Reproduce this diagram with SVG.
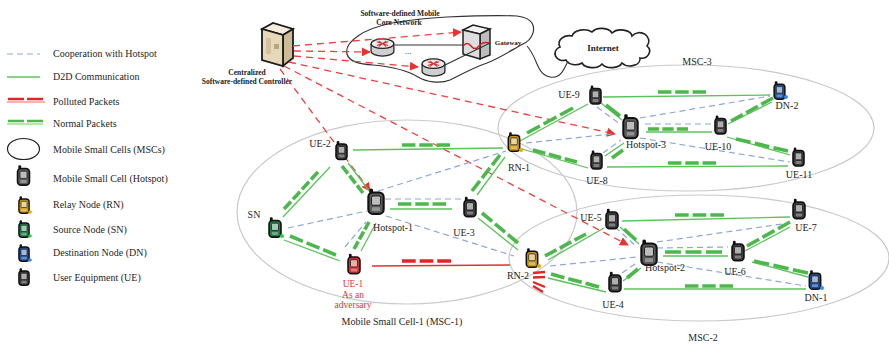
<svg xmlns="http://www.w3.org/2000/svg" width="889" height="345" viewBox="0 0 889 345">
  <defs>
    <style>
      text { font-family: "Liberation Serif", "Times New Roman", serif; fill: #262626; }
      .lg { font-size: 10px; }
      .lbl { font-size: 10px; text-anchor: middle; }
      .bold { font-weight: bold; font-size: 7.5px; text-anchor: middle; fill: #222; }
      .adv { fill: #e53333; font-size: 9.5px; }
      .cell { fill: none; stroke: #c9c9c9; stroke-width: 1.2; }
      .d2d { stroke: #5cc25c; stroke-width: 1.3; fill: none; }
      .pkt { stroke: #4cb84c; stroke-width: 3.6; fill: none; }
      .p3 { stroke-dasharray: 28 8; }
      .p4 { stroke-dasharray: 20.5 6; }
      .p1 { stroke-dasharray: none; }
      .coop { stroke: #8fa7d6; stroke-width: 1.2; stroke-dasharray: 6 4; fill: none; }
      .ctrl { stroke: #ee4040; stroke-width: 1.3; stroke-dasharray: 7 5; fill: none; }
      .bad { stroke: #e53030; stroke-width: 1.3; fill: none; }
      .badpkt { stroke: #e02626; stroke-width: 3.6; fill: none; }
      .wire { stroke: #333; stroke-width: 1.1; fill: none; }
      .ue { fill: #3a3a3a; }
      .hs { fill: #5a5a5a; }
      .rn { fill: #c99a10; }
      .sn { fill: #1f7a45; }
      .dn { fill: #1d4e98; }
      .ad { fill: #d92f2f; }
    </style>
    <!-- handset icon; body colour comes from the fill of each <use> -->
    <symbol id="ph" viewBox="0 0 12 18">
      <rect x="1.6" y="0.3" width="2.4" height="4.5" rx="1" fill="#111"/>
      <rect x="0.9" y="3" width="10.2" height="14.3" rx="3" stroke="#111" stroke-width="1.4"/>
      <rect x="3" y="5.3" width="6" height="6.2" rx="1" fill="#fff" fill-opacity="0.6" stroke="#111" stroke-width="0.6"/>
      <rect x="3.3" y="12.8" width="5.4" height="2.6" rx="0.6" fill="#fff" fill-opacity="0.35"/>
    </symbol>
    <!-- router cylinder -->
    <symbol id="router" viewBox="0 0 26 20">
      <path d="M1,6 v8 a12,5 0 0 0 24,0 v-8" fill="#cfcfcf" stroke="#222" stroke-width="1.3"/>
      <ellipse cx="13" cy="6" rx="12" ry="5" fill="#ececec" stroke="#222" stroke-width="1.3"/>
      <path d="M7,4 L19,8 M7,8 L19,4 M9,3 L13,6 L17,3 M9,9 L13,6 L17,9" stroke="#d83030" stroke-width="1.1" fill="none"/>
    </symbol>
    <marker id="ah" viewBox="0 0 10 10" refX="9" refY="5" markerWidth="9" markerHeight="9" markerUnits="userSpaceOnUse" orient="auto">
      <path d="M0,0 L10,5 L0,10 z" fill="#ee3030"/>
    </marker>
  </defs>

  <rect width="889" height="345" fill="#fff"/>

  <!-- legend -->
  <g id="legend">
    <line x1="7" y1="54" x2="40" y2="54" class="coop" stroke-dasharray="8 4"/>
    <text x="53" y="57" class="lg">Cooperation with Hotspot</text>
    <line x1="7" y1="77" x2="40" y2="77" class="d2d"/>
    <text x="53" y="80" class="lg">D2D Communication</text>
    <line x1="7" y1="102" x2="45" y2="102" stroke="#f59a9a" stroke-width="1.6"/>
    <line x1="8" y1="99" x2="44" y2="99" stroke="#e02626" stroke-width="2.6" stroke-dasharray="16 3"/>
    <text x="53" y="105" class="lg">Polluted Packets</text>
    <line x1="7" y1="124" x2="43" y2="124" stroke="#9ede8e" stroke-width="1.6"/>
    <line x1="8" y1="121" x2="43" y2="121" stroke="#4cb84c" stroke-width="2.6" stroke-dasharray="16 3"/>
    <text x="53" y="127" class="lg">Normal Packets</text>
    <ellipse cx="23.5" cy="149" rx="16" ry="10.5" fill="none" stroke="#222" stroke-width="1.2"/>
    <text x="53" y="153" class="lg">Mobile Small Cells (MSCs)</text>
    <use href="#ph" x="16" y="165" width="15" height="21" class="hs"/>
    <text x="53" y="182" class="lg">Mobile Small Cell (Hotspot)</text>
    <use href="#ph" x="18" y="196" width="12" height="18" class="rn"/>
    <circle cx="30" cy="212" r="1.8" fill="#f2a400"/>
    <text x="53" y="208" class="lg">Relay Node (RN)</text>
    <use href="#ph" x="18" y="220" width="12" height="18" class="sn"/>
    <circle cx="30" cy="236" r="1.8" fill="#2bd04a"/>
    <text x="53" y="233" class="lg">Source Node (SN)</text>
    <use href="#ph" x="18" y="244" width="12" height="18" class="dn"/>
    <circle cx="30" cy="260" r="1.8" fill="#3a8cf0"/>
    <text x="53" y="256" class="lg">Destination Node (DN)</text>
    <use href="#ph" x="18" y="268" width="12" height="18" class="ue"/>
    <text x="53" y="281" class="lg">User Equipment (UE)</text>
  </g>

  <!-- mobile small cells -->
  <g id="cells">
    <ellipse cx="407" cy="212" rx="170" ry="92" class="cell"/>
    <ellipse cx="686" cy="128" rx="188" ry="63" class="cell"/>
    <ellipse cx="699" cy="258" rx="190" ry="63" class="cell"/>
    <text x="697" y="65" class="lbl">MSC-3</text>
    <text x="703" y="341" class="lbl">MSC-2</text>
    <text x="402" y="325" class="lbl">Mobile Small Cell-1 (MSC-1)</text>
  </g>

  <!-- core network -->
  <g id="core-network">
    <path d="M532,23 C536,30 532,40 523,44 C515,48 500,58 487,63 C475,67 462,74 450,80 C440,84 426,82 418,77 C410,72 395,67 373,65 C360,64 349,62 347,54 C345,46 352,40 358,36 C366,30 378,26 392,23 C410,20 430,18 447,17 C470,16 495,15 517,16 C525,17 530,20 532,23 Z" fill="none" stroke="#333" stroke-width="1.2"/>
    <text x="400" y="16" class="bold">Software-defined Mobile</text>
    <text x="399" y="25" class="bold">Core Network</text>
  </g>

  <g id="gateway">
    <path d="M463,30 L473,25 L490,29 L480,34 Z" fill="#f2f2f2" stroke="#222" stroke-width="1.5"/>
    <path d="M480,34 L490,29 L490,55 L480,59 Z" fill="#bdbdbd" stroke="#222" stroke-width="1.5"/>
    <path d="M463,30 L480,34 L480,59 L463,54 Z" fill="#dedede" stroke="#222" stroke-width="1.5"/>
    <path d="M463,46 q4,-5 8,0 t8,0 t10,-3" stroke="#d02020" stroke-width="1.5" fill="none"/>
    <text x="508" y="45" class="bold" style="font-size:7px">Gateway</text>
  </g>

  <g id="router-1">
    <use href="#router" x="370" y="38" width="25" height="19"/>
  </g>
  <g id="router-2">
    <use href="#router" x="421" y="58" width="25" height="19"/>
  </g>
  <text x="408" y="54" class="lbl" style="font-size:9px">...</text>

  <g id="internet">
    <path d="M566,60 A8,7 0 0 1 560,47 A10,8 0 0 1 572,36 A12,8 0 0 1 592,32 A11,7 0 0 1 612,33 A11,7 0 0 1 632,36 A9,8 0 0 1 647,46 A8,7 0 0 1 640,58 A10,7 0 0 1 622,63 A11,7 0 0 1 602,64 A11,7 0 0 1 582,63 A10,7 0 0 1 566,60 Z" fill="#fff" stroke="#222" stroke-width="1.6"/>
    <text x="603" y="51" class="bold" style="font-size:9px">Internet</text>
  </g>

  <g id="controller">
    <path d="M262,29 L273,23 L293,29 L283,35 Z" fill="#f4ecdc" stroke="#1a1a1a" stroke-width="1.8"/>
    <path d="M283,35 L293,29 L293,58 L283,66 Z" fill="#cdbb96" stroke="#1a1a1a" stroke-width="1.8"/>
    <path d="M262,29 L283,35 L283,66 L262,60 Z" fill="#e6d8b8" stroke="#1a1a1a" stroke-width="1.8"/>
    <rect x="266" y="38" width="5" height="16" fill="#d2c29e"/>
    <rect x="274" y="44" width="5" height="5" fill="#b8a680"/>
    <text x="247" y="75" class="bold">Centralized</text>
    <text x="247" y="84" class="bold">Software-defined Controller</text>
  </g>

  <!-- connectors -->
  <g id="connectors">
    <path d="M490,43 L445,65" class="wire"/>
    <line x1="395" y1="45" x2="463" y2="45" class="wire"/>
    <path d="M527,46 C538,58 536,74 550,77 C560,79 564,70 568,61" class="wire"/>

    <!-- controller signalling -->
    <line x1="293" y1="46" x2="461" y2="32" class="ctrl" marker-end="url(#ah)"/>
    <line x1="294" y1="51" x2="370" y2="52" class="ctrl" marker-end="url(#ah)"/>
    <line x1="294" y1="56" x2="418" y2="67" class="ctrl" marker-end="url(#ah)"/>
    <line x1="289" y1="62" x2="615" y2="134" class="ctrl" marker-end="url(#ah)"/>
    <line x1="284" y1="66" x2="628" y2="245" class="ctrl" marker-end="url(#ah)"/>
    <line x1="280" y1="69" x2="370" y2="191" class="ctrl" marker-end="url(#ah)"/>

    <!-- MSC-3 -->
    <line x1="526" y1="143" x2="612" y2="134" class="coop"/>
    <line x1="597" y1="107" x2="620" y2="124" class="coop"/>
    <line x1="603" y1="153" x2="621" y2="140" class="coop"/>
    <line x1="640" y1="118" x2="770" y2="96" class="coop"/>
    <line x1="645" y1="124" x2="712" y2="124" class="coop"/>
    <line x1="640" y1="138" x2="790" y2="162" class="coop"/>
    <line x1="603" y1="97" x2="770" y2="95" class="d2d"/>
    <line x1="658" y1="92" x2="706" y2="92" class="pkt p3" pathLength="100"/>
    <line x1="520" y1="141" x2="588" y2="104" class="d2d"/>
    <line x1="527" y1="133" x2="573" y2="108" class="pkt p3" pathLength="100"/>
    <line x1="601" y1="103" x2="622" y2="120" class="d2d"/>
    <line x1="606" y1="105" x2="620" y2="116" class="pkt p1"/>
    <line x1="522" y1="149" x2="588" y2="168" class="d2d"/>
    <line x1="533" y1="150" x2="577" y2="162" class="pkt p3" pathLength="100"/>
    <line x1="605" y1="156" x2="624" y2="143" class="d2d"/>
    <line x1="612" y1="158" x2="623" y2="150" class="pkt p1"/>
    <line x1="646" y1="132" x2="712" y2="132" class="d2d"/>
    <line x1="648" y1="129" x2="688" y2="129" class="pkt p3" pathLength="100"/>
    <line x1="728" y1="124" x2="772" y2="102" class="d2d"/>
    <line x1="731" y1="121" x2="773" y2="98" class="pkt p3" pathLength="100"/>
    <line x1="727" y1="137" x2="790" y2="155" class="d2d"/>
    <line x1="736" y1="139" x2="788" y2="151" class="pkt p3" pathLength="100"/>
    <line x1="607" y1="167" x2="788" y2="166" class="d2d"/>
    <line x1="668" y1="163" x2="716" y2="163" class="pkt p3" pathLength="100"/>

    <!-- MSC-1 -->
    <line x1="378" y1="191" x2="506" y2="151" class="coop"/>
    <line x1="385" y1="199" x2="462" y2="199" class="coop"/>
    <line x1="288" y1="228" x2="367" y2="211" class="coop"/>
    <line x1="345" y1="247" x2="366" y2="222" class="coop"/>
    <line x1="386" y1="216" x2="514" y2="256" class="coop"/>
    <line x1="353" y1="150" x2="503" y2="148" class="d2d"/>
    <line x1="402" y1="145" x2="450" y2="145" class="pkt p3" pathLength="100"/>
    <line x1="283" y1="217" x2="330" y2="167" class="d2d"/>
    <line x1="284" y1="209" x2="318" y2="172" class="pkt p4" pathLength="100"/>
    <line x1="348" y1="163" x2="370" y2="192" class="d2d"/>
    <line x1="342" y1="166" x2="363" y2="193" class="pkt p3" pathLength="100"/>
    <line x1="390" y1="209" x2="452" y2="209" class="d2d"/>
    <line x1="398" y1="204" x2="446" y2="204" class="pkt p3" pathLength="100"/>
    <line x1="284" y1="240" x2="340" y2="261" class="d2d"/>
    <line x1="290" y1="236" x2="336" y2="255" class="pkt p3" pathLength="100"/>
    <line x1="361" y1="251" x2="376" y2="223" class="d2d"/>
    <line x1="354" y1="249" x2="369" y2="222" class="pkt p3" pathLength="100"/>
    <line x1="477" y1="195" x2="505" y2="157" class="d2d"/>
    <line x1="472" y1="191" x2="500" y2="155" class="pkt p3" pathLength="100"/>
    <line x1="478" y1="218" x2="518" y2="250" class="d2d"/>
    <line x1="482" y1="213" x2="518" y2="243" class="pkt p3" pathLength="100"/>
    <line x1="372" y1="266" x2="510" y2="265" class="bad"/>
    <line x1="402" y1="261" x2="451" y2="261" class="badpkt p3" pathLength="100"/>

    <!-- MSC-2 -->
    <line x1="615" y1="227" x2="637" y2="247" class="coop"/>
    <line x1="550" y1="266" x2="637" y2="257" class="coop"/>
    <line x1="622" y1="273" x2="638" y2="262" class="coop"/>
    <line x1="657" y1="248" x2="728" y2="247" class="coop"/>
    <line x1="657" y1="242" x2="789" y2="223" class="coop"/>
    <line x1="657" y1="262" x2="806" y2="286" class="coop"/>
    <line x1="548" y1="260" x2="604" y2="228" class="d2d"/>
    <line x1="545" y1="256" x2="586" y2="234" class="pkt p3" pathLength="100"/>
    <line x1="622" y1="221" x2="790" y2="217" class="d2d"/>
    <line x1="675" y1="215" x2="724" y2="215" class="pkt p3" pathLength="100"/>
    <line x1="620" y1="227" x2="639" y2="244" class="d2d"/>
    <line x1="624" y1="229" x2="636" y2="240" class="pkt p1"/>
    <line x1="548" y1="278" x2="606" y2="292" class="d2d"/>
    <line x1="551" y1="274" x2="599" y2="287" class="pkt p3" pathLength="100"/>
    <line x1="623" y1="281" x2="641" y2="268" class="d2d"/>
    <line x1="627" y1="278" x2="638" y2="269" class="pkt p1"/>
    <line x1="663" y1="256" x2="728" y2="256" class="d2d"/>
    <line x1="665" y1="252" x2="722" y2="252" class="pkt p3" pathLength="100"/>
    <line x1="745" y1="251" x2="790" y2="227" class="d2d"/>
    <line x1="747" y1="246" x2="790" y2="222" class="pkt p3" pathLength="100"/>
    <line x1="752" y1="262" x2="808" y2="277" class="d2d"/>
    <line x1="754" y1="261" x2="808" y2="273" class="pkt p3" pathLength="100"/>
    <line x1="624" y1="289" x2="806" y2="289" class="d2d"/>
    <line x1="685" y1="286" x2="733" y2="286" class="pkt p3" pathLength="100"/>

    <!-- polluted packets piling up at RN-2 -->
    <g stroke="#e02626" stroke-width="2.4">
      <line x1="533" y1="273" x2="545" y2="272"/>
      <line x1="533" y1="277.5" x2="545" y2="277"/>
      <line x1="533" y1="282" x2="545" y2="287"/>
      <line x1="533" y1="286" x2="543" y2="292"/>
    </g>
  </g>

  <!-- MSC-3 nodes -->
  <g id="ue-9"><use href="#ph" x="589" y="85" width="13" height="20" class="ue"/><text x="569" y="98" class="lbl">UE-9</text></g>
  <g id="dn-2"><use href="#ph" x="773" y="81" width="13" height="19" class="dn"/><circle cx="786" cy="97" r="2" fill="#3a8cf0"/><text x="787" y="109" class="lbl">DN-2</text></g>
  <g id="hotspot-3"><use href="#ph" x="622" y="113" width="17" height="27" class="hs"/><text x="646" y="148" class="lbl">Hotspot-3</text></g>
  <g id="ue-10"><use href="#ph" x="714" y="115" width="13" height="20" class="ue"/><text x="718" y="150" class="lbl">UE-10</text></g>
  <g id="ue-8"><use href="#ph" x="590" y="150" width="13" height="20" class="ue"/><text x="597" y="184" class="lbl">UE-8</text></g>
  <g id="ue-11"><use href="#ph" x="792" y="147" width="13" height="20" class="ue"/><text x="799" y="178" class="lbl">UE-11</text></g>
  <g id="rn-1"><use href="#ph" x="507" y="132" width="14" height="20" class="rn"/><circle cx="521" cy="150" r="2" fill="#f2a400"/><text x="519" y="171" class="lbl">RN-1</text></g>

  <!-- MSC-1 nodes -->
  <g id="ue-2"><use href="#ph" x="335" y="140" width="13" height="21" class="ue"/><text x="320" y="147" class="lbl">UE-2</text></g>
  <g id="hotspot-1"><use href="#ph" x="367" y="188" width="18" height="27" class="hs"/><text x="393" y="231" class="lbl">Hotspot-1</text></g>
  <g id="ue-3"><use href="#ph" x="463" y="196" width="14" height="22" class="ue"/><text x="464" y="236" class="lbl">UE-3</text></g>
  <g id="sn"><use href="#ph" x="268" y="217" width="14" height="21" class="sn"/><circle cx="282" cy="236" r="2" fill="#2bd04a"/><text x="254" y="218" class="lbl">SN</text></g>
  <g id="ue-1"><use href="#ph" x="347" y="253" width="14" height="22" class="ad"/><text x="353" y="287" class="lbl adv">UE-1</text><text x="353" y="297.5" class="lbl adv">As an</text><text x="353" y="308" class="lbl adv">adversary</text></g>
  <g id="rn-2"><use href="#ph" x="525" y="248" width="14" height="20" class="rn"/><circle cx="539" cy="266" r="2" fill="#f2a400"/><text x="518" y="279" class="lbl">RN-2</text></g>

  <!-- MSC-2 nodes -->
  <g id="ue-5"><use href="#ph" x="605" y="208" width="14" height="22" class="ue"/><text x="591" y="221" class="lbl">UE-5</text></g>
  <g id="ue-7"><use href="#ph" x="792" y="198" width="14" height="22" class="ue"/><text x="806" y="231" class="lbl">UE-7</text></g>
  <g id="hotspot-2"><use href="#ph" x="640" y="238" width="18" height="29" class="hs"/><text x="665" y="271" class="lbl">Hotspot-2</text></g>
  <g id="ue-6"><use href="#ph" x="731" y="240" width="14" height="22" class="ue"/><text x="735" y="275" class="lbl">UE-6</text></g>
  <g id="ue-4"><use href="#ph" x="608" y="271" width="14" height="22" class="ue"/><text x="613" y="308" class="lbl">UE-4</text></g>
  <g id="dn-1"><use href="#ph" x="808" y="270" width="14" height="20" class="dn"/><circle cx="822" cy="288" r="2" fill="#3a8cf0"/><text x="816" y="301" class="lbl">DN-1</text></g>
</svg>
